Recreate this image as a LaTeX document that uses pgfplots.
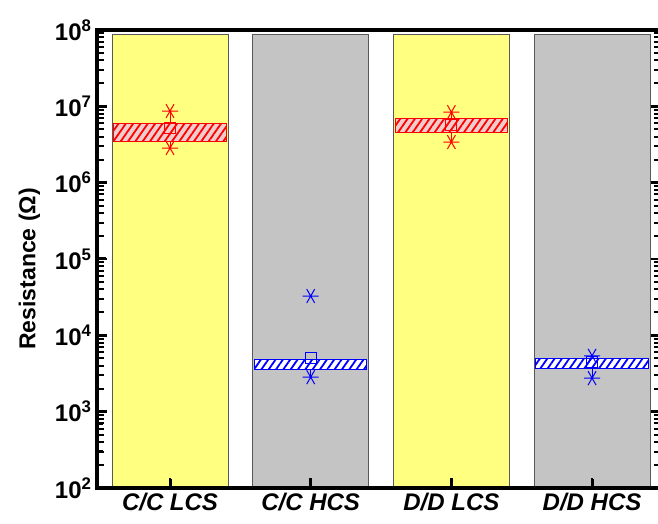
\documentclass[border=0pt]{standalone}
\usepackage{fontspec}
\setmainfont{Liberation Sans}
\usepackage{pgfplots}
\pgfplotsset{compat=1.18}
\usetikzlibrary{patterns.meta}
\definecolor{ybg}{RGB}{255,255,128}
\definecolor{gbg}{RGB}{196,196,196}
\definecolor{pinkfill}{RGB}{240,205,205}
\begin{document}
\begin{tikzpicture}
\begin{axis}[
  scale only axis, width=564pt, height=458pt,
  ymode=log, ymin=1e2, ymax=1e8,
  xmin=-0.519, xmax=3.49,
  enlargelimits=false,
  axis line style={line width=3.5pt},
  axis on top,
  xtick={0,1,2,3},
  xticklabels={C/C LCS, C/C HCS, D/D LCS, D/D HCS},
  xtick pos=bottom,
  ytick={1e2,1e3,1e4,1e5,1e6,1e7,1e8},
  yticklabels={10\textsuperscript{2},10\textsuperscript{3},10\textsuperscript{4},10\textsuperscript{5},10\textsuperscript{6},10\textsuperscript{7},10\textsuperscript{8}},
  major tick length=10pt, minor tick length=7pt,
  major tick style={black, line width=2.5pt},
  minor tick style={black, line width=2pt},
  xticklabel style={font=\bfseries\itshape\fontsize{24}{26}\selectfont, yshift=-2pt},
  yticklabel style={font=\bfseries\fontsize{24}{26}\selectfont, xshift=-2pt},
  ylabel={Resistance (Ω)},
  ylabel style={font=\bfseries\fontsize{23}{25}\selectfont, yshift=-2pt, xshift=-10pt},
  every axis y label/.append style={yshift=10pt},
]
\addplot[ybar, bar width=0.824, bar shift=0pt, fill=ybg, draw=gray!70!black, line width=0.8pt] coordinates {(0,8.8e7) (2,8.8e7)};
\addplot[ybar, bar width=0.824, bar shift=0pt, fill=gbg, draw=gray!70!black, line width=0.8pt] coordinates {(1,8.8e7) (3,8.8e7)};
% whiskers
\addplot[red, line width=0.8pt] coordinates {(0,2.84e6) (0,8.67e6)};
\addplot[red, line width=0.8pt] coordinates {(2,3.4e6) (2,8.4e6)};
\addplot[blue, line width=0.8pt] coordinates {(1,2.83e3) (1,4.2e3)};
\addplot[blue, line width=0.8pt] coordinates {(3,2.75e3) (3,5.4e3)};
% boxes
\addplot[draw=red, line width=1pt, fill=pinkfill, postaction={pattern={Lines[angle=55,distance=6pt,line width=1.8pt]}, pattern color=red}] coordinates {(-0.4,3.51e6) (0.4,3.51e6) (0.4,6.04e6) (-0.4,6.04e6)} --cycle;
\addplot[draw=red, line width=1pt, fill=pinkfill, postaction={pattern={Lines[angle=55,distance=6pt,line width=1.8pt]}, pattern color=red}] coordinates {(1.6,4.6e6) (2.4,4.6e6) (2.4,7.03e6) (1.6,7.03e6)} --cycle;
\addplot[draw=blue, line width=1pt, fill=white, postaction={pattern={Lines[angle=55,distance=6pt,line width=1.8pt]}, pattern color=blue}] coordinates {(0.6,3.6e3) (1.4,3.6e3) (1.4,4.87e3) (0.6,4.87e3)} --cycle;
\addplot[draw=blue, line width=1pt, fill=white, postaction={pattern={Lines[angle=55,distance=6pt,line width=1.8pt]}, pattern color=blue}] coordinates {(2.6,3.7e3) (3.4,3.7e3) (3.4,5.0e3) (2.6,5.0e3)} --cycle;
% means
\addplot[only marks, mark=square, mark size=5.5pt, red, line width=0.8pt] coordinates {(0,5.2e6) (2,5.7e6)};
\addplot[only marks, mark=square, mark size=5.5pt, blue, line width=0.8pt] coordinates {(1,5.0e3) (3,4.45e3)};
% min / max / outliers
\addplot[only marks, mark=asterisk, mark size=8pt, red, line width=1pt, every mark/.append style={rotate=90}] coordinates {(0,8.67e6) (0,2.84e6) (2,8.4e6) (2,3.4e6)};
\addplot[only marks, mark=asterisk, mark size=8pt, blue, line width=1pt, every mark/.append style={rotate=90}] coordinates {(1,3.27e4) (1,2.83e3) (3,5.4e3) (3,2.75e3)};
% explicit tick marks (inward)
\pgfplotsinvokeforeach{0,1,2,3}{\draw[black, line width=3pt] (axis cs:#1,1e2) -- ++(0pt,9pt);}
\pgfplotsinvokeforeach{2,3,4,5,6,7,8}{\draw[black, line width=3pt] (axis cs:-0.519,1e#1) -- ++(9pt,0pt);}
\pgfplotsinvokeforeach{2,3,4,5,6,7}{%
  \pgfplotsinvokeforeach{2,3,4,5,6,7,8,9}{\draw[black, line width=2.2pt] (axis cs:-0.519,##1e#1) -- ++(6pt,0pt);}%
}
\end{axis}
\pgfresetboundingbox
\useasboundingbox (current axis.south west) ++(-97pt,-35pt) rectangle ++(658pt,523pt);
\end{tikzpicture}
\end{document}
